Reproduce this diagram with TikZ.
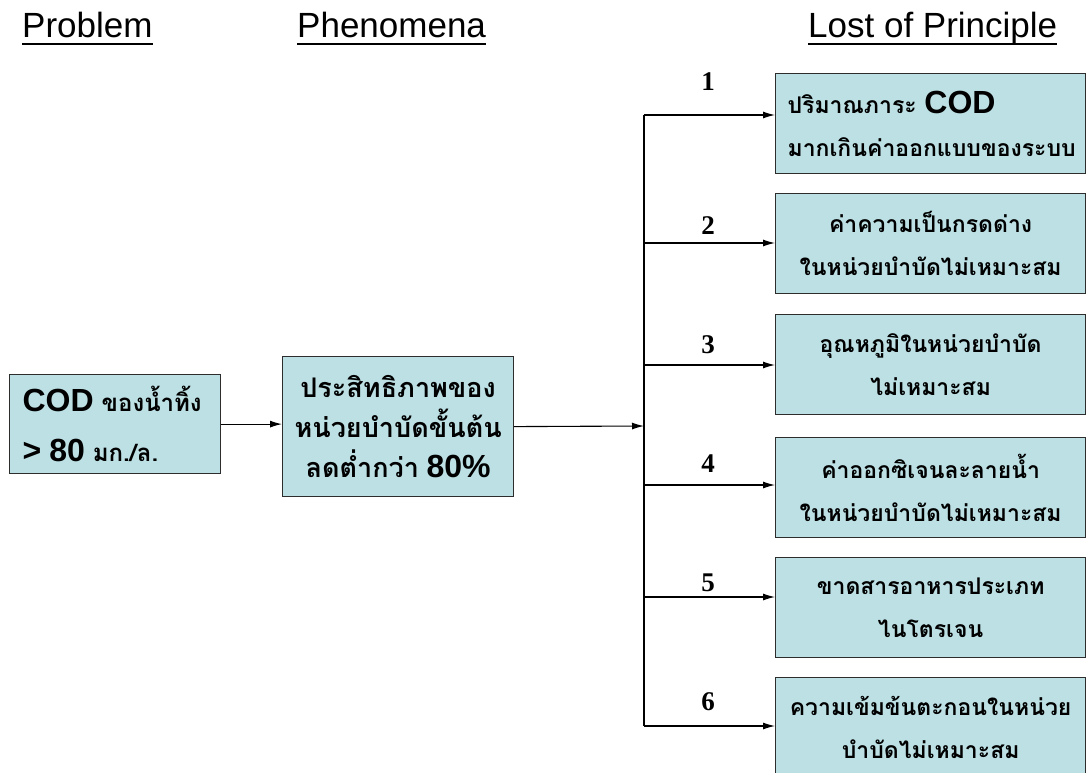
\documentclass[tikz,border=0pt]{standalone}
\usepackage{fontspec}
\setmainfont{Liberation Sans}
\newfontfamily\thaifont[Script=Thai]{Loma}
\newfontfamily\numfont{Liberation Serif}
\usetikzlibrary{arrows.meta,calc,positioning}
\definecolor{BoxClr}{RGB}{188,224,228}
\definecolor{EdgeClr}{RGB}{45,45,45}
\newcommand\Th[2][23]{{\thaifont\bfseries\fontsize{#1}{#1}\selectfont #2}}
\newcommand\La[1]{{\bfseries\fontsize{32}{32}\selectfont #1}}

\begin{document}
\begin{tikzpicture}[x=1pt,y=-1pt,
  box/.style={draw=EdgeClr,fill=BoxClr,line width=1.2pt,anchor=north west,inner ysep=0pt},
  cause/.style={box,minimum width=310pt,minimum height=100pt,align=center,
    font=\fontsize{23}{43}\selectfont},
  link/.style={line width=1.1pt,-{Latex[length=12pt,width=7pt]}},
  head/.style={font=\fontsize{35}{35}\selectfont,inner sep=0pt,anchor=base west},
  num/.style={font=\numfont\bfseries\fontsize{27}{27}\selectfont}]
\clip (0,0) rectangle (1086,773);

\node[head] (hProb) at (22,38) {Problem};
\node[head] (hPhen) at (297,38) {Phenomena};
\node[head] (hLost) at (808,38) {Lost of Principle};
\foreach \h in {hProb,hPhen,hLost}
  \draw[line width=1.1pt] ([yshift=-6pt]\h.base west) -- ([yshift=-6pt]\h.base east);

\node[box,minimum width=211pt,minimum height=99pt,text width=185pt,inner xsep=13pt,
  align=left,font=\fontsize{24}{50}\selectfont] (cod) at (9,374)
  {\La{COD} \Th[24]{ของน้ำทิ้ง}\\ \La{> 80} \Th[24]{มก./ล.}};
\node[box,minimum width=231pt,minimum height=140pt,align=center,
  font=\fontsize{27}{40}\selectfont] (eff) at (282,356)
  {\Th[27]{ประสิทธิภาพของ}\\ \Th[27]{หน่วยบำบัดขั้นต้น}\\ \Th[27]{ลดต่ำกว่า} \La{80\%}};

\node[cause,text width=286pt,inner xsep=12pt,align=left] (p1) at (775,73)
  {\Th{ปริมาณภาระ} \La{COD}\\ \Th{มากเกินค่าออกแบบของระบบ}};
\node[cause] (p2) at (775,193)
  {\Th{ค่าความเป็นกรดด่าง}\\ \Th{ในหน่วยบำบัดไม่เหมาะสม}};
\node[cause] (p3) at (775,314)
  {\Th{อุณหภูมิในหน่วยบำบัด}\\ \Th{ไม่เหมาะสม}};
\node[cause] (p4) at (775,437)
  {\Th{ค่าออกซิเจนละลายน้ำ}\\ \Th{ในหน่วยบำบัดไม่เหมาะสม}};
\node[cause] (p5) at (775,557)
  {\Th{ขาดสารอาหารประเภท}\\ \Th{ไนโตรเจน}};
\node[cause] (p6) at (775,677)
  {\Th{ความเข้มข้นตะกอนในหน่วย}\\ \Th{บำบัดไม่เหมาะสม}};

\coordinate (jn) at (644,426);
\draw[link] (cod.east) -- (cod.east -| eff.west);
\draw[link] (eff.east) -- (jn);

\foreach \i/\y/\t in {1/115/82,2/243/226,3/365/345,4/485/464,5/597/583,6/726/702}{
  \coordinate (b\i) at (644,\y);
  \draw[link] (b\i) -- (b\i -| p\i.west);
  \node[num] (n\i) at (708,\t) {\i};
}
\draw[line width=1.1pt] (b1) -- (b6);

\end{tikzpicture}
\end{document}
